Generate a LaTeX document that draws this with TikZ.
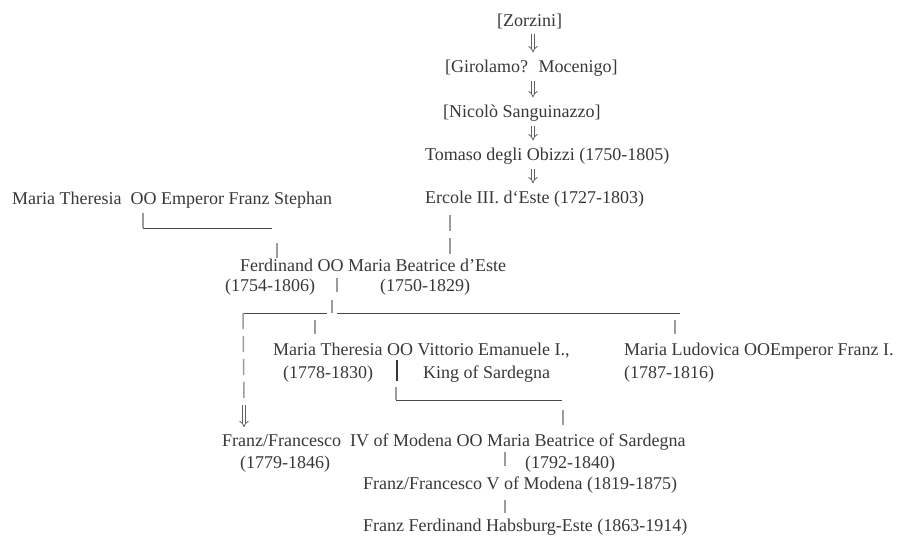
\documentclass[tikz,border=0pt]{standalone}
\usepackage{fontspec}
\setmainfont{Liberation Serif}
\usetikzlibrary{arrows.meta}
\definecolor{ink}{HTML}{383838}
\definecolor{bargray}{HTML}{9C9C9C}
\definecolor{rulegray}{HTML}{4A4A4A}

\begin{document}
\begin{tikzpicture}[x=1pt, y=-1pt,
		p/.style    = {anchor=base west, inner sep=0pt, text=ink, font=\fontsize{18}{22}\selectfont},
		bar/.style  = {draw=bargray, line width=1.5pt},
		bars/.style = {bar, dash pattern=on 16pt off 7pt},
		kbar/.style = {draw=ink, line width=1.6pt},
		rule/.style = {draw=rulegray, line width=0.9pt},
		dn/.style   = {draw=ink!80, double=white, double distance=2.4pt, line width=0.8pt, -{Implies}}
		]
		\useasboundingbox (0,0) rectangle (908,536);
		
		%Nodes
		\node[p]	(zorzini)	at	(497, 26)	{[Zorzini]};
		\node[p]	(mocenigo)	at	(445, 72)	{[Girolamo?~ Mocenigo]};
		\node[p]	(sanguin)	at	(443, 117)	{[Nicolò Sanguinazzo]};
		\node[p]	(tomaso)	at	(425, 160)	{Tomaso degli Obizzi (1750-1805)};
		\node[p]	(ercole)	at	(425, 203)	{Ercole III. d‘Este (1727-1803)};
		
		\node[p]	(mtheresia)	at	(12, 204)	{Maria Theresia~ OO Emperor Franz Stephan};
		
		\node[p]	(ferdinand)	at	(240, 271)	{Ferdinand OO Maria Beatrice d’Este};
		\node[p]	(ferdyrs)	at	(225, 291)	{(1754-1806)};
		\node[p]	(beayrs)	at	(380, 291)	{(1750-1829)};
		
		\node[p]	(mtvitt)	at	(273, 355)	{Maria Theresia OO Vittorio Emanuele I.,};
		\node[p]	(mtyrs)		at	(283, 378)	{(1778-1830)};
		\node[p]	(king)		at	(423, 378)	{King of Sardegna};
		\node[p]	(ludovica)	at	(624, 355)	{Maria Ludovica OOEmperor Franz I.};
		\node[p]	(ludyrs)	at	(624, 378)	{(1787-1816)};
		
		\node[p]	(franz4)	at	(222, 446)	{Franz/Francesco~ IV of Modena OO Maria Beatrice of Sardegna};
		\node[p]	(f4yrs)		at	(240, 468)	{(1779-1846)};
		\node[p]	(mbyrs)		at	(525, 468)	{(1792-1840)};
		\node[p]	(franz5)	at	(363, 489)	{Franz/Francesco V of Modena (1819-1875)};
		\node[p]	(ffranz)	at	(363, 531)	{Franz Ferdinand Habsburg-Este (1863-1914)};
		
		%Coordinates
		\coordinate	(ax)	at	(533, 0);
		\coordinate	(fsL)	at	(143, 228);
		\coordinate	(fsR)	at	(272, 228);
		\coordinate	(fd)	at	(277, 243);
		\coordinate	(eb)	at	(450, 0);
		\coordinate	(fc)	at	(337, 292);
		\coordinate	(kL)	at	(243, 313);
		\coordinate	(kM)	at	(332, 313);
		\coordinate	(kN)	at	(337, 313);
		\coordinate	(kR)	at	(680, 313);
		\coordinate	(mt)	at	(315, 320);
		\coordinate	(ml)	at	(675, 320);
		\coordinate	(fa)	at	(244, 405);
		\coordinate	(vc)	at	(397, 381);
		\coordinate	(vL)	at	(396, 400);
		\coordinate	(vR)	at	(562, 400);
		\coordinate	(mb)	at	(563, 410);
		\coordinate	(f5)	at	(505, 0);
		
		%Lines
		\draw[dn, shorten <=5pt, shorten >=7pt]	(zorzini.south -| ax)	--	(mocenigo.north -| ax);
		\draw[dn, shorten <=5pt, shorten >=7pt]	(mocenigo.south -| ax)	--	(sanguin.north -| ax);
		\draw[dn, shorten <=5pt, shorten >=7pt]	(sanguin.south -| ax)	--	(tomaso.north -| ax);
		\draw[dn, shorten <=5pt, shorten >=7pt]	(tomaso.south -| ax)	--	(ercole.north -| ax);
		
		\draw[bar, shorten <=5pt]	(mtheresia.south -| fsL)	--	(fsL);
		\draw[rule]	(fsL)	--	(fsR);
		\draw[bar]	(fd)	--	(ferdinand.north -| fd);
		\draw[bars, shorten <=8pt, shorten >=2pt]	(ercole.south -| eb)	--	(ferdinand.north -| eb);
		
		\draw[bar, shorten <=7pt]	(ferdinand.south -| fc)	--	(fc);
		\draw[bar]	(kM)	--	++(0, -13);
		\draw[rule]	(kL)	--	(327, 313);
		\draw[rule]	(kN)	--	(kR);
		
		\draw[bars]	(kL)	--	(fa);
		\draw[dn, shorten >=6pt]	(fa)	--	(franz4.north -| fa);
		\draw[bar, shorten >=8pt]	(mt)	--	(mtvitt.north -| mt);
		\draw[bar, shorten >=8pt]	(ml)	--	(ludovica.north -| ml);
		
		\draw[kbar, shorten <=2pt]	(mtvitt.south -| vc)	--	(vc);
		\draw[bar]	(vL)	--	++(0, -13);
		\draw[rule]	(vL)	--	(vR);
		\draw[bar, shorten >=8pt]	(mb)	--	(franz4.north -| mb);
		
		\draw[bar, shorten <=2pt, shorten >=10pt]	(franz4.south -| f5)	--	(franz5.north -| f5);
		\draw[bar, shorten <=7pt, shorten >=5pt]	(franz5.south -| f5)	--	(ffranz.north -| f5);
	\end{tikzpicture}
\end{document}
